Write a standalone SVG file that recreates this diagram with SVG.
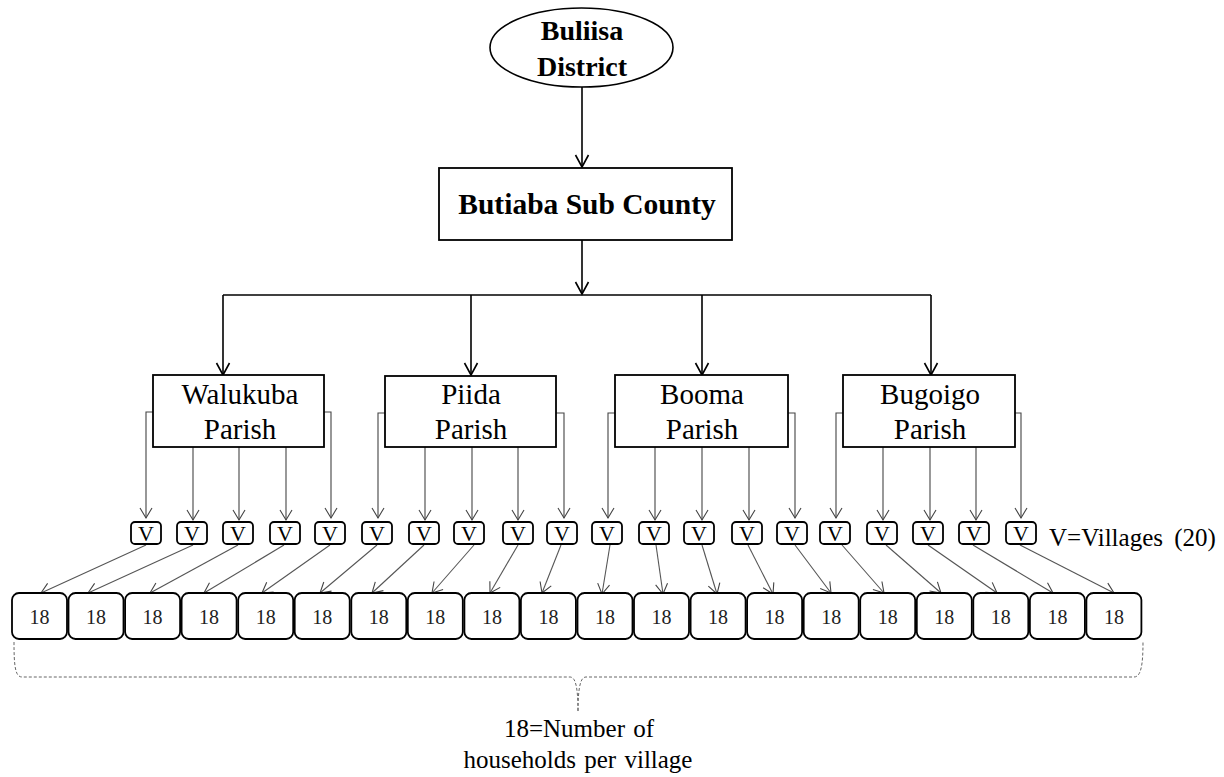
<svg xmlns="http://www.w3.org/2000/svg" width="1224" height="777" viewBox="0 0 1224 777">
<defs>
<style>
.t{font-family:"Liberation Serif","Times New Roman",serif;fill:#000;text-anchor:middle}
.b{font-weight:bold;font-size:28px}
.p{font-size:29px}
.v{font-size:22px}
.n{font-size:20px;fill:#222}
.box{fill:#fff;stroke:#000;stroke-width:1.8}
.main{fill:none;stroke:#000;stroke-width:1.6}
.thin{fill:none;stroke:#444;stroke-width:1.1}
.diag{fill:none;stroke:#555;stroke-width:1.1}
.brace{fill:none;stroke:#666;stroke-width:1;stroke-dasharray:3 2}
</style>
<marker id="ab" markerUnits="userSpaceOnUse" markerWidth="16" markerHeight="16" viewBox="0 0 16 16" refX="14" refY="8" orient="auto"><path d="M2,1.5 L14,8 L2,14.5" fill="none" stroke="#000" stroke-width="1.6"/></marker>
<marker id="ag" markerUnits="userSpaceOnUse" markerWidth="14" markerHeight="14" viewBox="0 0 14 14" refX="12" refY="7" orient="auto"><path d="M2,1 L12,7 L2,13" fill="none" stroke="#444" stroke-width="1.1"/></marker>
</defs>
<rect width="1224" height="777" fill="#fff"/>

<g id="connectors">
<line class="main" x1="582" y1="87" x2="582" y2="167" marker-end="url(#ab)"/>
<line class="main" x1="582" y1="240" x2="582" y2="294" marker-end="url(#ab)"/>
<line class="main" x1="223" y1="295" x2="931" y2="295"/>
<line class="main" x1="223" y1="295" x2="223" y2="375" marker-end="url(#ab)"/>
<line class="main" x1="471" y1="295" x2="471" y2="375" marker-end="url(#ab)"/>
<line class="main" x1="702" y1="295" x2="702" y2="375" marker-end="url(#ab)"/>
<line class="main" x1="931" y1="295" x2="931" y2="375" marker-end="url(#ab)"/>

<path class="thin" d="M153,412 H146 V518" marker-end="url(#ag)"/>
<path class="thin" d="M324,412 H331 V518" marker-end="url(#ag)"/>
<line class="thin" x1="193" y1="447" x2="193" y2="520" marker-end="url(#ag)"/>
<line class="thin" x1="239" y1="447" x2="239" y2="520" marker-end="url(#ag)"/>
<line class="thin" x1="286" y1="447" x2="286" y2="520" marker-end="url(#ag)"/>

<path class="thin" d="M385,413 H378 V518" marker-end="url(#ag)"/>
<path class="thin" d="M556,413 H564 V518" marker-end="url(#ag)"/>
<line class="thin" x1="425" y1="447" x2="425" y2="520" marker-end="url(#ag)"/>
<line class="thin" x1="472" y1="447" x2="472" y2="520" marker-end="url(#ag)"/>
<line class="thin" x1="518" y1="447" x2="518" y2="520" marker-end="url(#ag)"/>

<path class="thin" d="M615,413 H608 V518" marker-end="url(#ag)"/>
<path class="thin" d="M788,413 H795 V518" marker-end="url(#ag)"/>
<line class="thin" x1="655" y1="447" x2="655" y2="520" marker-end="url(#ag)"/>
<line class="thin" x1="702" y1="447" x2="702" y2="520" marker-end="url(#ag)"/>
<line class="thin" x1="749" y1="447" x2="749" y2="520" marker-end="url(#ag)"/>

<path class="thin" d="M843,413 H836 V518" marker-end="url(#ag)"/>
<path class="thin" d="M1015,413 H1021 V518" marker-end="url(#ag)"/>
<line class="thin" x1="883" y1="447" x2="883" y2="520" marker-end="url(#ag)"/>
<line class="thin" x1="930" y1="447" x2="930" y2="520" marker-end="url(#ag)"/>
<line class="thin" x1="976" y1="447" x2="976" y2="520" marker-end="url(#ag)"/>

<line class="diag" x1="146" y1="545" x2="41" y2="593" marker-end="url(#ag)"/>
<line class="diag" x1="193" y1="545" x2="88" y2="593" marker-end="url(#ag)"/>
<line class="diag" x1="238" y1="545" x2="150" y2="593" marker-end="url(#ag)"/>
<line class="diag" x1="284" y1="545" x2="204" y2="593" marker-end="url(#ag)"/>
<line class="diag" x1="330" y1="545" x2="262" y2="593" marker-end="url(#ag)"/>
<line class="diag" x1="377" y1="545" x2="320" y2="593" marker-end="url(#ag)"/>
<line class="diag" x1="424" y1="545" x2="372" y2="593" marker-end="url(#ag)"/>
<line class="diag" x1="474" y1="545" x2="432" y2="593" marker-end="url(#ag)"/>
<line class="diag" x1="518" y1="545" x2="490" y2="593" marker-end="url(#ag)"/>
<line class="diag" x1="561" y1="545" x2="542" y2="593" marker-end="url(#ag)"/>
<line class="diag" x1="610" y1="545" x2="602" y2="594" marker-end="url(#ag)"/>
<line class="diag" x1="656" y1="545" x2="663" y2="594" marker-end="url(#ag)"/>
<line class="diag" x1="702" y1="545" x2="717" y2="594" marker-end="url(#ag)"/>
<line class="diag" x1="748" y1="545" x2="773" y2="594" marker-end="url(#ag)"/>
<line class="diag" x1="795" y1="545" x2="831" y2="593" marker-end="url(#ag)"/>
<line class="diag" x1="842" y1="545" x2="884" y2="593" marker-end="url(#ag)"/>
<line class="diag" x1="886" y1="545" x2="941" y2="593" marker-end="url(#ag)"/>
<line class="diag" x1="928" y1="545" x2="997" y2="593" marker-end="url(#ag)"/>
<line class="diag" x1="973" y1="545" x2="1053" y2="593" marker-end="url(#ag)"/>
<line class="diag" x1="1020" y1="545" x2="1114" y2="593" marker-end="url(#ag)"/>
</g>

<g id="district">
<ellipse cx="581.5" cy="47.5" rx="91.5" ry="39.5" fill="#fff" stroke="#000" stroke-width="1.6"/>
<text class="t b" x="582" y="40">Buliisa</text>
<text class="t b" x="582" y="76">District</text>
</g>

<g id="subcounty">
<rect class="box" x="439" y="168" width="293" height="72"/>
<text class="t b" x="587" y="214" style="font-size:29.5px">Butiaba Sub County</text>
</g>

<g id="walukuba">
<rect class="box" x="153" y="375" width="171" height="72"/>
<text class="t p" x="240" y="404">Walukuba</text>
<text class="t p" x="240" y="439">Parish</text>
</g>
<g id="piida">
<rect class="box" x="385" y="376" width="171" height="71"/>
<text class="t p" x="471" y="404">Piida</text>
<text class="t p" x="471" y="439">Parish</text>
</g>
<g id="booma">
<rect class="box" x="615" y="375" width="173" height="72"/>
<text class="t p" x="702" y="404">Booma</text>
<text class="t p" x="702" y="439">Parish</text>
</g>
<g id="bugoigo">
<rect class="box" x="843" y="375" width="172" height="72"/>
<text class="t p" x="930" y="404">Bugoigo</text>
<text class="t p" x="930" y="439">Parish</text>
</g>

<g id="villages">
<rect class="box" x="131" y="522" width="30" height="22" rx="4"/><text class="t v" x="146" y="541">V</text>
<rect class="box" x="177" y="522" width="30" height="22" rx="4"/><text class="t v" x="192" y="541">V</text>
<rect class="box" x="223" y="522" width="30" height="22" rx="4"/><text class="t v" x="238" y="541">V</text>
<rect class="box" x="270" y="522" width="30" height="22" rx="4"/><text class="t v" x="285" y="541">V</text>
<rect class="box" x="315" y="522" width="30" height="22" rx="4"/><text class="t v" x="330" y="541">V</text>
<rect class="box" x="362" y="522" width="30" height="22" rx="4"/><text class="t v" x="377" y="541">V</text>
<rect class="box" x="409" y="522" width="30" height="22" rx="4"/><text class="t v" x="424" y="541">V</text>
<rect class="box" x="454" y="522" width="30" height="22" rx="4"/><text class="t v" x="469" y="541">V</text>
<rect class="box" x="503" y="522" width="30" height="22" rx="4"/><text class="t v" x="518" y="541">V</text>
<rect class="box" x="547" y="522" width="30" height="22" rx="4"/><text class="t v" x="562" y="541">V</text>
<rect class="box" x="592" y="522" width="30" height="22" rx="4"/><text class="t v" x="607" y="541">V</text>
<rect class="box" x="639" y="522" width="30" height="22" rx="4"/><text class="t v" x="654" y="541">V</text>
<rect class="box" x="684" y="522" width="30" height="22" rx="4"/><text class="t v" x="699" y="541">V</text>
<rect class="box" x="732" y="522" width="30" height="22" rx="4"/><text class="t v" x="747" y="541">V</text>
<rect class="box" x="777" y="522" width="30" height="22" rx="4"/><text class="t v" x="792" y="541">V</text>
<rect class="box" x="820" y="522" width="30" height="22" rx="4"/><text class="t v" x="835" y="541">V</text>
<rect class="box" x="867" y="522" width="30" height="22" rx="4"/><text class="t v" x="882" y="541">V</text>
<rect class="box" x="913" y="522" width="30" height="22" rx="4"/><text class="t v" x="928" y="541">V</text>
<rect class="box" x="959" y="522" width="30" height="22" rx="4"/><text class="t v" x="974" y="541">V</text>
<rect class="box" x="1006" y="522" width="30" height="22" rx="4"/><text class="t v" x="1021" y="541">V</text>
<text class="t" x="1049" y="546" style="text-anchor:start;font-size:25px;word-spacing:5px">V=Villages (20)</text>
</g>

<g id="households">
<rect class="box" x="12" y="593" width="55" height="46" rx="7"/><text class="t n" x="39.5" y="624">18</text>
<rect class="box" x="68.5" y="593" width="55" height="46" rx="7"/><text class="t n" x="96" y="624">18</text>
<rect class="box" x="125.1" y="593" width="55" height="46" rx="7"/><text class="t n" x="152.6" y="624">18</text>
<rect class="box" x="181.6" y="593" width="55" height="46" rx="7"/><text class="t n" x="209.1" y="624">18</text>
<rect class="box" x="238.2" y="593" width="55" height="46" rx="7"/><text class="t n" x="265.7" y="624">18</text>
<rect class="box" x="294.7" y="593" width="55" height="46" rx="7"/><text class="t n" x="322.2" y="624">18</text>
<rect class="box" x="351.3" y="593" width="55" height="46" rx="7"/><text class="t n" x="378.8" y="624">18</text>
<rect class="box" x="407.8" y="593" width="55" height="46" rx="7"/><text class="t n" x="435.3" y="624">18</text>
<rect class="box" x="464.4" y="593" width="55" height="46" rx="7"/><text class="t n" x="491.9" y="624">18</text>
<rect class="box" x="520.9" y="593" width="55" height="46" rx="7"/><text class="t n" x="548.4" y="624">18</text>
<rect class="box" x="577.5" y="593" width="55" height="46" rx="7"/><text class="t n" x="605" y="624">18</text>
<rect class="box" x="634" y="593" width="55" height="46" rx="7"/><text class="t n" x="661.5" y="624">18</text>
<rect class="box" x="690.6" y="593" width="55" height="46" rx="7"/><text class="t n" x="718.1" y="624">18</text>
<rect class="box" x="747.1" y="593" width="55" height="46" rx="7"/><text class="t n" x="774.6" y="624">18</text>
<rect class="box" x="803.7" y="593" width="55" height="46" rx="7"/><text class="t n" x="831.2" y="624">18</text>
<rect class="box" x="860.2" y="593" width="55" height="46" rx="7"/><text class="t n" x="887.7" y="624">18</text>
<rect class="box" x="916.8" y="593" width="55" height="46" rx="7"/><text class="t n" x="944.3" y="624">18</text>
<rect class="box" x="973.3" y="593" width="55" height="46" rx="7"/><text class="t n" x="1000.8" y="624">18</text>
<rect class="box" x="1029.9" y="593" width="55" height="46" rx="7"/><text class="t n" x="1057.4" y="624">18</text>
<rect class="box" x="1086.4" y="593" width="55" height="46" rx="7"/><text class="t n" x="1113.9" y="624">18</text>
</g>

<g id="brace">
<path class="brace" d="M14,642 C14,665 15,677 22,677 H570 C575,677 578,685 578,712 C578,685 581,677 586,677 H1134 C1141,677 1143,665 1143,642"/>
</g>

<g id="legend">
<text class="t" x="579" y="737" style="font-size:25px;word-spacing:2px">18=Number of</text>
<text class="t" x="578" y="768" style="font-size:25px;word-spacing:2px">households per village</text>
</g>
</svg>
